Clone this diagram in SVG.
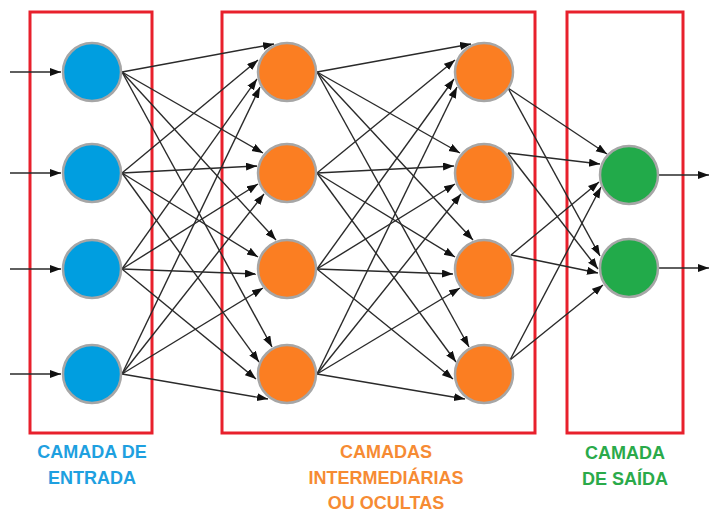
<svg xmlns="http://www.w3.org/2000/svg" width="710" height="514" viewBox="0 0 710 514">
<defs>
<marker id="ah" markerUnits="userSpaceOnUse" markerWidth="12" markerHeight="9" refX="11" refY="4" orient="auto">
<path d="M0,0 L11,4 L0,8 z" fill="#111"/>
</marker>
<style>
.e{stroke:#2a2a2a;stroke-width:1.4;fill:none;marker-end:url(#ah)}
.n{stroke:#a6a6a6;stroke-width:2.5}
.in{fill:#009ee0}.hd{fill:#fb7e22}.ot{fill:#22aa4a}
.box{fill:none;stroke:#e8202c;stroke-width:3}
.t{font-family:"Liberation Sans",Arial,sans-serif;font-weight:bold;font-size:18px;text-anchor:middle}
</style>
</defs>
<rect width="710" height="514" fill="#ffffff"/>
<g id="boxes">
<rect class="box" x="30" y="12" width="122" height="421"/>
<rect class="box" x="222" y="12" width="313" height="421"/>
<rect class="box" x="567" y="12" width="116" height="421"/>
</g>
<g id="connectors">
<line class="e" x1="10" y1="72" x2="61" y2="72"/>
<line class="e" x1="10" y1="173" x2="61" y2="173"/>
<line class="e" x1="10" y1="269" x2="61" y2="269"/>
<line class="e" x1="10" y1="374" x2="61" y2="374"/>
<line class="e" x1="122" y1="72" x2="274" y2="44"/>
<line class="e" x1="122" y1="173" x2="258" y2="60"/>
<line class="e" x1="122" y1="269" x2="257" y2="79"/>
<line class="e" x1="122" y1="374" x2="260" y2="87"/>
<line class="e" x1="122" y1="72" x2="263" y2="153"/>
<line class="e" x1="122" y1="173" x2="257" y2="166"/>
<line class="e" x1="122" y1="269" x2="258" y2="184"/>
<line class="e" x1="122" y1="374" x2="264" y2="194"/>
<line class="e" x1="122" y1="72" x2="276" y2="240"/>
<line class="e" x1="122" y1="173" x2="258" y2="257"/>
<line class="e" x1="122" y1="269" x2="256" y2="274"/>
<line class="e" x1="122" y1="374" x2="263" y2="288"/>
<line class="e" x1="122" y1="72" x2="272" y2="347"/>
<line class="e" x1="122" y1="173" x2="259" y2="362"/>
<line class="e" x1="122" y1="269" x2="256" y2="379"/>
<line class="e" x1="122" y1="374" x2="268" y2="399"/>
<line class="e" x1="317" y1="72" x2="471" y2="44"/>
<line class="e" x1="317" y1="173" x2="455" y2="60"/>
<line class="e" x1="317" y1="269" x2="454" y2="79"/>
<line class="e" x1="317" y1="374" x2="457" y2="87"/>
<line class="e" x1="317" y1="72" x2="460" y2="153"/>
<line class="e" x1="317" y1="173" x2="454" y2="166"/>
<line class="e" x1="317" y1="269" x2="455" y2="184"/>
<line class="e" x1="317" y1="374" x2="461" y2="194"/>
<line class="e" x1="317" y1="72" x2="473" y2="240"/>
<line class="e" x1="317" y1="173" x2="455" y2="257"/>
<line class="e" x1="317" y1="269" x2="453" y2="274"/>
<line class="e" x1="317" y1="374" x2="460" y2="288"/>
<line class="e" x1="317" y1="72" x2="469" y2="347"/>
<line class="e" x1="317" y1="173" x2="456" y2="362"/>
<line class="e" x1="317" y1="269" x2="453" y2="379"/>
<line class="e" x1="317" y1="374" x2="465" y2="399"/>
<line class="e" x1="508" y1="88" x2="607" y2="154"/>
<line class="e" x1="508" y1="153" x2="600" y2="164"/>
<line class="e" x1="511" y1="255" x2="599" y2="182"/>
<line class="e" x1="510" y1="360" x2="601" y2="187"/>
<line class="e" x1="508" y1="88" x2="600" y2="256"/>
<line class="e" x1="508" y1="153" x2="598" y2="269"/>
<line class="e" x1="511" y1="255" x2="598" y2="273"/>
<line class="e" x1="510" y1="360" x2="603" y2="285"/>
<line class="e" x1="659" y1="175" x2="709" y2="175"/>
<line class="e" x1="659" y1="268" x2="709" y2="268"/>
</g>
<g id="in1"><circle class="n in" cx="92" cy="72" r="29"/></g>
<g id="in2"><circle class="n in" cx="92" cy="173" r="29"/></g>
<g id="in3"><circle class="n in" cx="92" cy="269" r="29"/></g>
<g id="in4"><circle class="n in" cx="92" cy="374" r="29"/></g>
<g id="h1a"><circle class="n hd" cx="287" cy="72" r="29"/></g>
<g id="h1b"><circle class="n hd" cx="287" cy="173" r="29"/></g>
<g id="h1c"><circle class="n hd" cx="287" cy="269" r="29"/></g>
<g id="h1d"><circle class="n hd" cx="287" cy="374" r="29"/></g>
<g id="h2a"><circle class="n hd" cx="484" cy="72" r="29"/></g>
<g id="h2b"><circle class="n hd" cx="484" cy="173" r="29"/></g>
<g id="h2c"><circle class="n hd" cx="484" cy="269" r="29"/></g>
<g id="h2d"><circle class="n hd" cx="484" cy="374" r="29"/></g>
<g id="o1"><circle class="n ot" cx="629" cy="175" r="29"/></g>
<g id="o2"><circle class="n ot" cx="629" cy="268" r="29"/></g>
<g id="labels">
<text class="t" x="92" y="458" fill="#1ea0e0">CAMADA DE</text>
<text class="t" x="92" y="484" fill="#1ea0e0">ENTRADA</text>
<text class="t" x="386" y="458" fill="#f68b33">CAMADAS</text>
<text class="t" x="386" y="484" fill="#f68b33">INTERMEDIÁRIAS</text>
<text class="t" x="386" y="509" fill="#f68b33">OU OCULTAS</text>
<text class="t" x="625" y="459" fill="#2aaa4a">CAMADA</text>
<text class="t" x="625" y="485" fill="#2aaa4a">DE SAÍDA</text>
</g>
</svg>
